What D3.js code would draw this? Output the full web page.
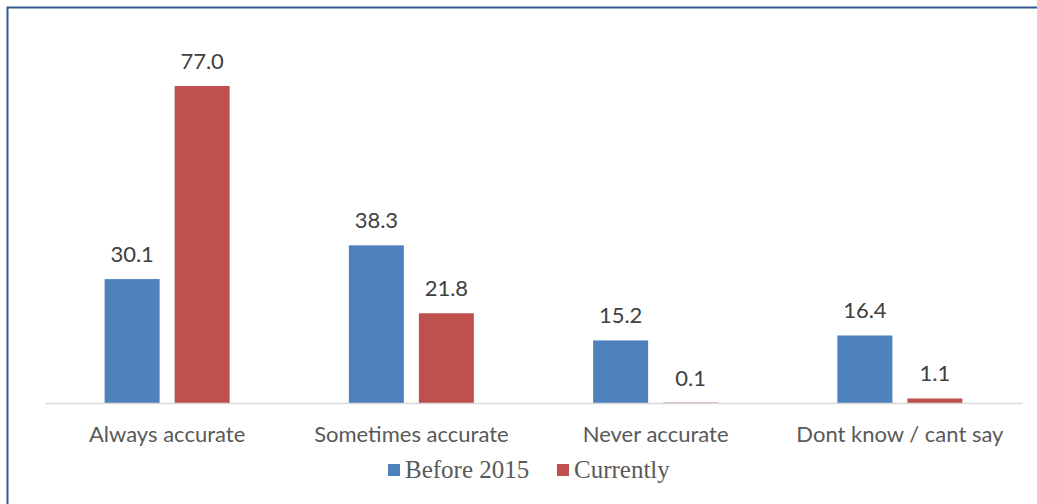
<!DOCTYPE html>
<html><head><meta charset="utf-8">
<script src="https://cdn.jsdelivr.net/npm/d3@7"></script>
<style>html,body{margin:0;padding:0;background:#fff;}svg{display:block;}</style>
</head><body>
<script>
const categories = ["Always accurate", "Sometimes accurate", "Never accurate", "Dont know / cant say"];
const seriesNames = ["Before 2015", "Currently"];
const before2015 = [30.1, 38.3, 15.2, 16.4];
const currently = [77.0, 21.8, 0.1, 1.1];
const colors = ["#4F81BD", "#C0504D"];

const W = 1037, H = 504;
const svg = d3.select("body").append("svg").attr("width", W).attr("height", H);
svg.append("rect").attr("x", 7.5).attr("y", 7.5).attr("width", W + 10).attr("height", H + 10)
  .attr("fill", "#fff").attr("stroke", "#2F5A8F").attr("stroke-width", 2);

const x0 = d3.scaleBand().domain(categories).range([45, 1022]).paddingInner(0).paddingOuter(0);
const x1 = d3.scaleBand().domain(seriesNames).range([0, 125]).paddingInner(15/70).paddingOuter(0);
const y = d3.scaleLinear().domain([0, 77]).range([403, 86]);

const data = categories.map((c, i) => ({cat: c, vals: [before2015[i], currently[i]]}));

const g = svg.append("g");
const groups = g.selectAll("g.cat").data(data).join("g")
  .attr("transform", d => `translate(${x0(d.cat) + x0.bandwidth()/2 - 62.5},0)`);
groups.selectAll("rect").data(d => d.vals.map((v, j) => ({v, s: seriesNames[j], j})))
  .join("rect")
  .attr("x", d => x1(d.s)).attr("width", x1.bandwidth())
  .attr("y", d => y(d.v)).attr("height", d => Math.max(0, y(0) - y(d.v)))
  .attr("fill", d => colors[d.j]);
groups.selectAll("text").data(d => d.vals.map((v, j) => ({v, s: seriesNames[j], j})))
  .join("text")
  .attr("x", d => x1(d.s) + x1.bandwidth()/2)
  .attr("y", d => y(d.v) - 17)
  .attr("text-anchor", "middle")
  .attr("font-family", "Lato, 'Open Sans', sans-serif").attr("font-size", 22)
  .attr("fill", "#404040")
  .text(d => d.v.toFixed(1));

// baseline axis
const axis = d3.axisBottom(x0).tickSize(0).tickPadding(0);
const ax = svg.append("g").attr("transform", `translate(0,${y(0)})`).call(axis);
ax.select(".domain").attr("stroke", "#D9D9D9").attr("stroke-width", 1.5);
ax.selectAll("text").attr("dy", null).attr("y", 39)
  .attr("font-family", "Lato, 'Open Sans', sans-serif").attr("font-size", 22)
  .attr("fill", "#595959");

// legend
const leg = svg.append("g").attr("transform", "translate(0,470)");
const legX = [388, 557];
seriesNames.forEach((s, i) => {
  leg.append("rect").attr("x", legX[i]).attr("y", -6).attr("width", 12).attr("height", 12).attr("fill", colors[i]);
  leg.append("text").attr("x", legX[i] + 17).attr("y", 8)
    .attr("font-family", "'Liberation Serif', 'DejaVu Serif', serif").attr("font-size", 25)
    .attr("fill", "#595959").text(s);
});
</script>
</body></html>
